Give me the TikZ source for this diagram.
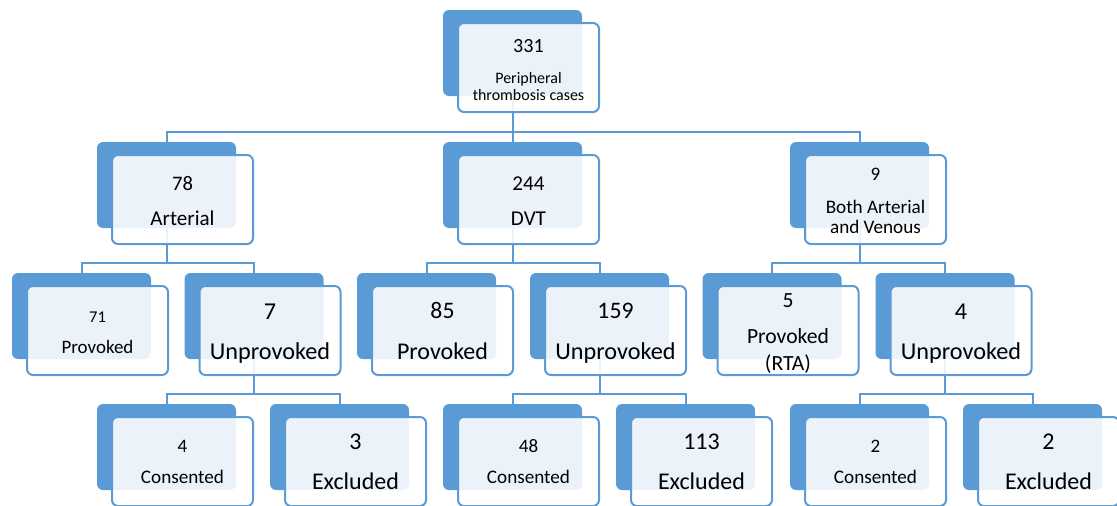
\documentclass[tikz,border=0pt]{standalone}
\usepackage{fontspec}
\setmainfont{Carlito}
\usetikzlibrary{backgrounds}
\definecolor{ob}{HTML}{5B9BD5}
\newcommand\tbox[3]{%
  \node[backbox] (#1-bk) at (#2,#3) {};
  \node[frontbox] (#1) at ({#2+15},{#3+13}) {};}
\newcommand\tl[5]{%
  \node[lbl,font=\fontsize{\the\dimexpr #3pt*103/100\relax}{#3pt}\selectfont] (#1) at ([yshift=-#4pt]#2.north) {#5};}
\begin{document}
\begin{tikzpicture}[x=1pt,y=-1pt,
  backbox/.style={fill=ob, rounded corners=6pt, minimum width=139pt, minimum height=86pt,
    anchor=north west, inner sep=0pt, outer sep=0pt},
  frontbox/.style={draw=ob, line width=2pt, fill=white, fill opacity=0.88, rounded corners=6pt,
    minimum width=141pt, minimum height=89pt, anchor=north west, inner sep=0pt, outer sep=0pt},
  conn/.style={draw=ob, line width=2pt},
  lbl/.style={anchor=base, inner sep=0pt, text=black}]
\useasboundingbox (0,0) rectangle (1117,506);
\coordinate (bus1) at (0,132);
\coordinate (bus2) at (0,263);
\coordinate (bus3) at (0,394);
% level 1
\tbox{T}{443}{10}
% level 2
\tbox{A}{97}{142}
\tbox{D}{443}{142}
\tbox{B}{790}{142}
% level 3
\tbox{A1}{12}{273}
\tbox{A2}{184.5}{273}
\tbox{D1}{357}{273}
\tbox{D2}{530}{273}
\tbox{B1}{702.5}{273}
\tbox{B2}{875.5}{273}
% level 4
\tbox{A21}{97}{404}
\tbox{A22}{270}{404}
\tbox{D21}{443}{404}
\tbox{D22}{616}{404}
\tbox{B21}{790}{404}
\tbox{B22}{963}{404}
% connectors
\begin{pgfonlayer}{background}
\draw[conn] (T-bk.center) |- (A-bk.north |- bus1) -- (A-bk.north);
\draw[conn] (T-bk.center) |- (D-bk.north |- bus1) -- (D-bk.north);
\draw[conn] (T-bk.center) |- (B-bk.north |- bus1) -- (B-bk.north);
\draw[conn] (A-bk.center) |- (A1-bk.north |- bus2) -- (A1-bk.north);
\draw[conn] (A-bk.center) |- (A2-bk.north |- bus2) -- (A2-bk.north);
\draw[conn] (D-bk.center) |- (D1-bk.north |- bus2) -- (D1-bk.north);
\draw[conn] (D-bk.center) |- (D2-bk.north |- bus2) -- (D2-bk.north);
\draw[conn] (B-bk.center) |- (B1-bk.north |- bus2) -- (B1-bk.north);
\draw[conn] (B-bk.center) |- (B2-bk.north |- bus2) -- (B2-bk.north);
\draw[conn] (A2-bk.center) |- (A21-bk.north |- bus3) -- (A21-bk.north);
\draw[conn] (A2-bk.center) |- (A22-bk.north |- bus3) -- (A22-bk.north);
\draw[conn] (D2-bk.center) |- (D21-bk.north |- bus3) -- (D21-bk.north);
\draw[conn] (D2-bk.center) |- (D22-bk.north |- bus3) -- (D22-bk.north);
\draw[conn] (B2-bk.center) |- (B21-bk.north |- bus3) -- (B21-bk.north);
\draw[conn] (B2-bk.center) |- (B22-bk.north |- bus3) -- (B22-bk.north);
\end{pgfonlayer}
% labels
\tl{T-n}{T}{19.5}{29}{331}
\tl{T-l1}{T}{15.5}{60}{Peripheral}
\tl{T-l2}{T}{15.5}{77}{thrombosis cases}
\tl{A-n}{A}{20}{35}{78}
\tl{A-l1}{A}{20.5}{70}{Arterial}
\tl{D-n}{D}{20.5}{35}{244}
\tl{D-l1}{D}{20.5}{70}{DVT}
\tl{B-n}{B}{18.5}{25}{9}
\tl{B-l1}{B}{18.6}{58}{Both Arterial}
\tl{B-l2}{B}{18.6}{78}{and Venous}
\tl{A1-n}{A1}{16}{36}{71}
\tl{A1-l1}{A1}{18.4}{67}{Provoked}
\tl{A2-n}{A2}{23.5}{33}{7}
\tl{A2-l1}{A2}{23.5}{73}{Unprovoked}
\tl{D1-n}{D1}{23}{32}{85}
\tl{D1-l1}{D1}{23.3}{73}{Provoked}
\tl{D2-n}{D2}{23}{32}{159}
\tl{D2-l1}{D2}{23.5}{73}{Unprovoked}
\tl{B1-n}{B1}{21}{21}{5}
\tl{B1-l1}{B1}{21}{57}{Provoked}
\tl{B1-l2}{B1}{21}{84}{(RTA)}
\tl{B2-n}{B2}{23.5}{33}{4}
\tl{B2-l1}{B2}{23.5}{73}{Unprovoked}
\tl{A21-n}{A21}{18.5}{35}{4}
\tl{A21-l1}{A21}{18.6}{66}{Consented}
\tl{A22-n}{A22}{23.3}{32}{3}
\tl{A22-l1}{A22}{23.3}{72}{Excluded}
\tl{D21-n}{D21}{18.5}{35}{48}
\tl{D21-l1}{D21}{18.6}{66}{Consented}
\tl{D22-n}{D22}{23.3}{32}{113}
\tl{D22-l1}{D22}{23.3}{72}{Excluded}
\tl{B21-n}{B21}{18.5}{35}{2}
\tl{B21-l1}{B21}{18.6}{66}{Consented}
\tl{B22-n}{B22}{23.3}{32}{2}
\tl{B22-l1}{B22}{23.3}{72}{Excluded}
\end{tikzpicture}
\end{document}
